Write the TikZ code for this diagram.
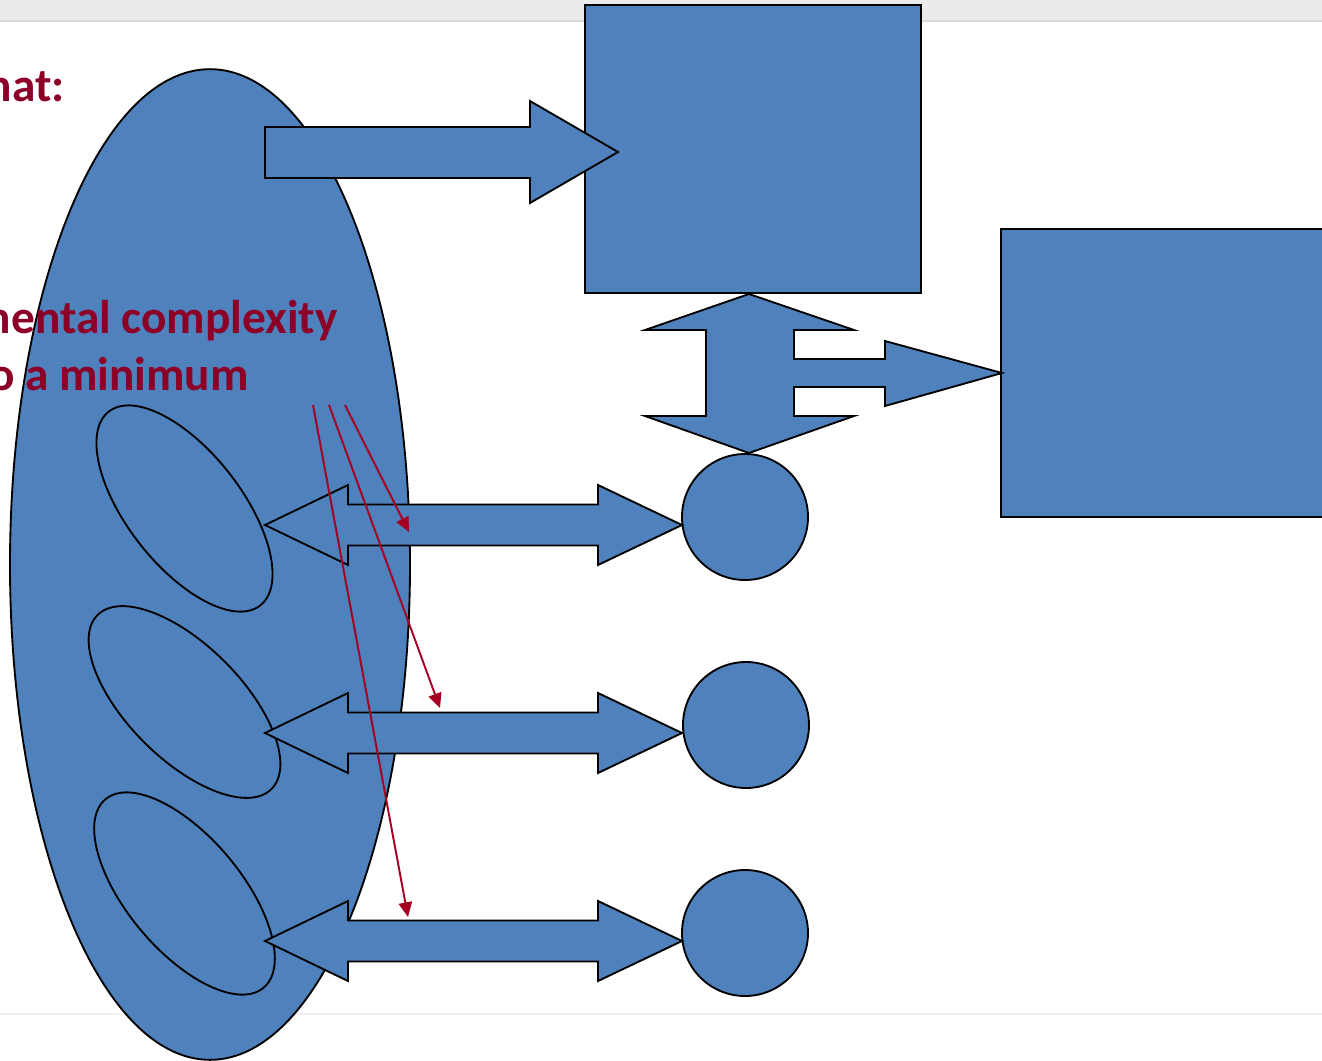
\documentclass[tikz,border=0pt]{standalone}
\usepackage{fontspec}
\setmainfont{Carlito}
\usetikzlibrary{shapes.geometric,arrows.meta}
\definecolor{shapeblue}{HTML}{4F81BD}
\definecolor{titlered}{HTML}{8C0028}
\definecolor{pointred}{HTML}{A50021}
\definecolor{barfill}{HTML}{EBEBEB}
\definecolor{barline}{HTML}{DADADA}
\definecolor{footline}{HTML}{F0F0F0}
\tikzset{
  blueshape/.style={fill=shapeblue, draw=black, line width=1.4pt, line join=miter},
  bigoval/.style={blueshape, ellipse, inner sep=0pt, minimum width=300pt, minimum height=743pt},
  smalloval/.style={blueshape, ellipse, inner sep=0pt, minimum width=184.5pt, minimum height=85.5pt},
  roundnode/.style={blueshape, circle, inner sep=0pt, minimum size=94.5pt},
  boxnode/.style={blueshape, rectangle, inner sep=0pt, minimum width=252pt, minimum height=216pt},
  slidetext/.style={text=titlered, font=\fontsize{35.5}{42}\selectfont\bfseries, inner sep=0pt, anchor=base east},
  pointer/.style={draw=pointred, line width=1.45pt, -{Triangle[length=11pt,width=10pt]}}
}
\begin{document}
\begin{tikzpicture}[x=0.75pt,y=-0.75pt]
\useasboundingbox (0,0) rectangle (1322,1061);
% window frame: title bar and footer rule
\fill[barfill] (0,0) rectangle (1322,21);
\draw[barline, line width=0.8pt] (0,21) -- (1322,21);
\draw[footline, line width=0.8pt] (0,1014) -- (1322,1014);

% the system as a whole
\node[bigoval] (system) at (210,564.5) {};

% slide text
\node[slidetext] (t1) at (65,101) {hat:};
\node[slidetext] (t2) at (338,333) {mental complexity};
\node[slidetext] (t3) at (249,390) {to a minimum};

% outer boxes
\node[boxnode] (topbox) at (753,149) {};
\node[boxnode] (rightbox) at (1169,373) {};

% arrow from the system into the top box
\draw[blueshape] (265,127) -- (530,127) -- (530,101) -- (618,152) -- (530,203)
  -- (530,178) -- (265,178) -- cycle;

% two-way arrow between the top box and the first circle, branching right
\draw[blueshape] (749,294) -- (854,330) -- (794,330) -- (794,359) -- (885,359)
  -- (885,341) -- (1002,373) -- (885,406) -- (885,387) -- (794,387) -- (794,416)
  -- (854,416) -- (749,453) -- (645,416) -- (706,416) -- (706,330) -- (645,330) -- cycle;

% circles on the right
\node[roundnode] (c1) at (745,517) {};
\node[roundnode] (c2) at (746,725) {};
\node[roundnode] (c3) at (745,933) {};

% parts inside the system
\node[smalloval, rotate=-52] (e1) at (184.5,508.5) {};
\node[smalloval, rotate=-45] (e2) at (184.5,702) {};
\node[smalloval, rotate=-50] (e3) at (184.5,893.5) {};

% two-way arrows between the parts and the circles
\foreach \yy in {525,733,941}{
  \draw[blueshape] (265,\yy) -- (348,\yy-40) -- (348,\yy-20.5) -- (598,\yy-20.5)
    -- (598,\yy-40) -- (682,\yy) -- (598,\yy+40) -- (598,\yy+20.5)
    -- (348,\yy+20.5) -- (348,\yy+40) -- cycle;
}

% pointers from the text to the three interfaces
\coordinate (p1) at (345,405);
\coordinate (p2) at (329,405);
\coordinate (p3) at (313,405);
\coordinate (q1) at (409,532);
\coordinate (q2) at (440,708);
\coordinate (q3) at (408,917);
\draw[pointer] (p1) -- (q1);
\draw[pointer] (p2) -- (q2);
\draw[pointer] (p3) -- (q3);
\end{tikzpicture}
\end{document}
